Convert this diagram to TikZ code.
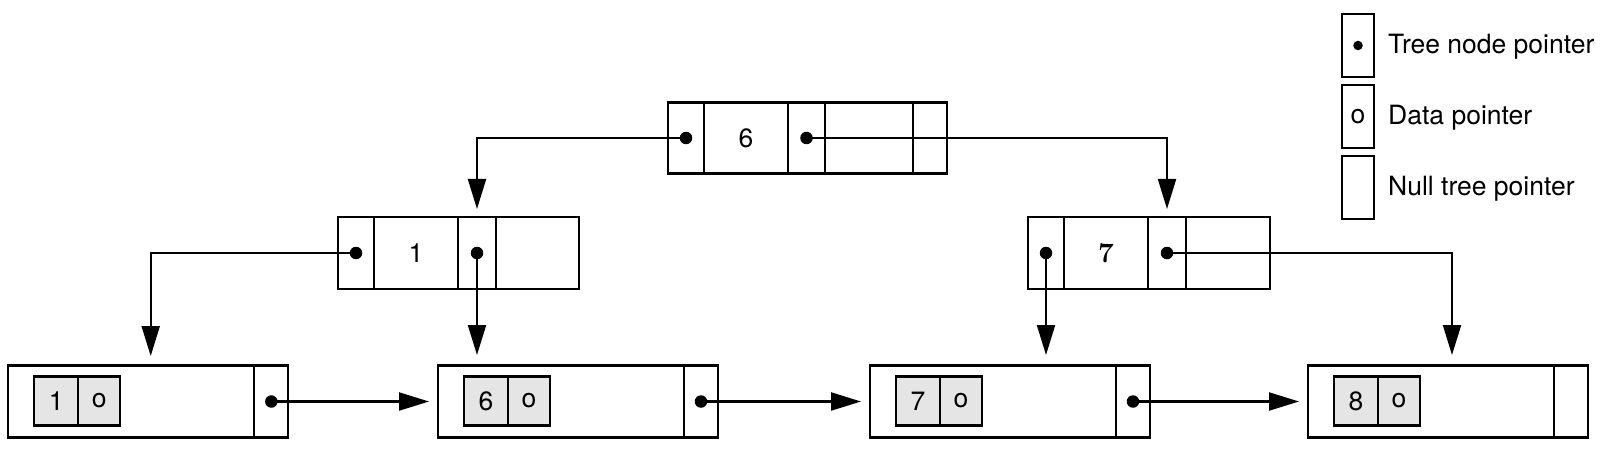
\documentclass[tikz,border=0pt]{standalone}
\usepackage{fontspec}
\setsansfont{TeX Gyre Heros}
\usetikzlibrary{arrows.meta}
\begin{document}
\begin{tikzpicture}[x=1pt,y=-1pt,
  txt/.style={font=\sffamily\fontsize{26.5}{31}\selectfont},
  box/.style={draw, line width=2.1pt, inner sep=0pt, outer sep=0pt, txt},
  ibox/.style={box, minimum height=71pt},
  lbox/.style={box, minimum height=72pt},
  gbox/.style={box, fill=black!10, minimum height=49pt},
  legbox/.style={draw, line width=1.4pt, inner sep=0pt, minimum width=32pt, minimum height=63pt, txt},
  dot/.style={fill, circle, inner sep=0pt, minimum size=12.5pt},
  sdot/.style={fill, circle, inner sep=0pt, minimum size=9.5pt},
  arr/.style={line width=2.1pt, -{Triangle[length=30pt,width=18pt]}},
]
\useasboundingbox (0,0) rectangle (1602,449);

% root node
\node[ibox, minimum width=36pt] (r1) at (686,138) {};
\node[ibox, minimum width=84pt] (r2) at (746,138) {6};
\node[ibox, minimum width=37pt] (r3) at (806.5,138) {};
\node[ibox, minimum width=88pt] (r4) at (869,138) {};
\node[ibox, minimum width=34pt] (r5) at (930,138) {};

% left internal node
\node[lbox, minimum width=36pt] (L1) at (356,253) {};
\node[lbox, minimum width=84pt] (L2) at (416,253) {1};
\node[lbox, minimum width=38pt] (L3) at (477,253) {};
\node[lbox, minimum width=83pt] (L4) at (537.5,253) {};

% right internal node
\node[lbox, minimum width=36pt] (R1) at (1046,253) {};
\node[lbox, minimum width=84pt, font=\rmfamily\bfseries\fontsize{28}{32}\selectfont] (R2) at (1106,253) {7};
\node[lbox, minimum width=38pt] (R3) at (1167,253) {};
\node[lbox, minimum width=84pt] (R4) at (1228,253) {};

% leaves
\foreach \i/\x/\k in {1/8.3/1, 2/438/6, 3/870/7, 4/1308/8}{
  \node[lbox, minimum width=246pt] (B\i) at (\x+123,401.5) {};
  \node[lbox, minimum width=34pt] (P\i) at (\x+263,401.5) {};
  \node[gbox, minimum width=44pt] (K\i) at (\x+48,401) {\k};
  \node[gbox, minimum width=42pt] (O\i) at (\x+91,401) {o};
}

% connector end points
\coordinate (a1) at (150.7,356);
\coordinate (a2) at (477,355);
\coordinate (a3) at (1046,355);
\coordinate (a4) at (1452,355);

% connectors
\draw[arr] (r1.center) -| ([yshift=8pt]L3.north);
\draw[arr] (r3.center) -| ([yshift=8pt]R3.north);
\draw[arr] (L1.center) -| (a1);
\draw[arr] (L3.center) -- (a2);
\draw[arr] (R1.center) -- (a3);
\draw[arr] (R3.center) -| (a4);
\draw[arr] (P1.center) -- ([xshift=-9pt]B2.west);
\draw[arr] (P2.center) -- ([xshift=-9pt]B3.west);
\draw[arr] (P3.center) -- ([xshift=-9pt]B4.west);

% pointer dots
\foreach \n in {r1,r3,L1,L3,R1,R3,P1,P2,P3}{
  \node[dot] at (\n.center) {};
}

% legend
\node[legbox] (g1) at (1358,45.5) {};
\node[sdot] at (g1.center) {};
\node[legbox] (g2) at (1358,116.5) {o};
\node[legbox] (g3) at (1358,187.5) {};
\node[txt, anchor=west, inner sep=0pt] (t1) at (1388,47) {Tree node pointer};
\node[txt, anchor=west, inner sep=0pt] (t2) at (1388,118) {Data pointer};
\node[txt, anchor=west, inner sep=0pt] (t3) at (1388,189) {Null tree pointer};
\end{tikzpicture}
\end{document}
